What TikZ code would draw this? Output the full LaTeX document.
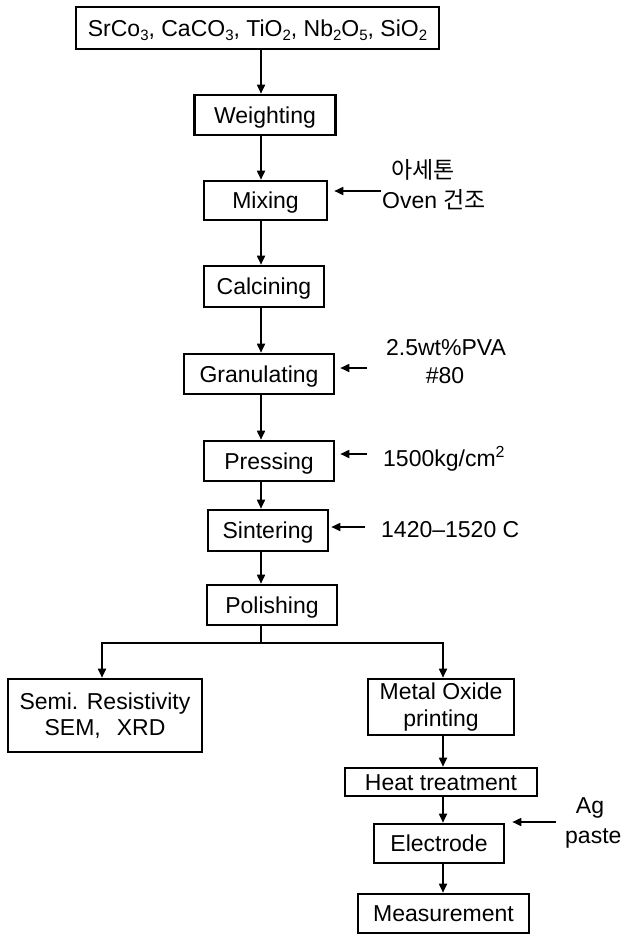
\documentclass[tikz,border=0pt]{standalone}
\usepackage{fontspec}
\setmainfont{Liberation Sans}
\newfontfamily\kr{Noto Sans CJK KR}
\usetikzlibrary{arrows.meta}
\newcommand\chsub[1]{\raisebox{-0.38ex}{\fontsize{15}{15}\selectfont #1}}
\newcommand\chsup[1]{\raisebox{0.75ex}{\fontsize{16}{16}\selectfont #1}}
\begin{document}
\begin{tikzpicture}[x=1pt,y=-1pt,font=\fontsize{23}{26}\selectfont,
  box/.style={draw, line width=2.6pt, inner sep=0pt, text height=16.5pt, text depth=0pt},
  box2/.style={draw, line width=2.6pt, inner sep=0pt, align=center},
  arr/.style={line width=1.7pt, -{Triangle[length=9pt,width=8pt]}},
  ln/.style={line width=1.7pt},
  lbl/.style={inner sep=0pt, text height=16.5pt, text depth=0pt}]
\useasboundingbox (0,0) rectangle (622,934);
\fill[white] (0,0) rectangle (622,934);

% main column boxes
\node[box, minimum width=363pt, minimum height=42pt] (top) at (257.5,28)
  {SrCo\chsub{3}, CaCO\chsub{3}, TiO\chsub{2}, Nb\chsub{2}O\chsub{5}, SiO\chsub{2}};
\node[box, minimum width=141pt, minimum height=40pt] (weigh) at (265,115) {Weighting};
\node[box, minimum width=123pt, minimum height=39pt] (mix) at (265.5,200.5) {Mixing};
\node[box, minimum width=120pt, minimum height=41pt] (calc) at (264,286.5) {Calcining};
\node[box, minimum width=150pt, minimum height=40pt] (gran) at (259,374) {Granulating};
\node[box, minimum width=130pt, minimum height=40pt] (press) at (269,461) {Pressing};
\node[box, minimum width=120pt, minimum height=41pt] (sint) at (268,530.5) {Sintering};
\node[box, minimum width=130pt, minimum height=40pt] (pol) at (272,605) {Polishing};

% branches
\node[box2, minimum width=194pt, minimum height=73pt] (semi) at (105,715.5)
  {Semi. Resistivity\\SEM,\hspace{16pt}XRD};
\node[box2, minimum width=146pt, minimum height=56pt] (metal) at (441,707)
  {Metal Oxide\\[1pt]printing};
\node[box, minimum width=192pt, minimum height=28pt] (heat) at (441,782) {Heat treatment};
\node[box, minimum width=130pt, minimum height=39pt] (elec) at (439,843.5) {Electrode};
\node[box, minimum width=171pt, minimum height=39pt] (meas) at (443.5,913.5) {Measurement};

% side labels
\node[lbl] (acetone) at (423,170) {\kr 아세톤};
\node[lbl, anchor=west] (oven) at (382,200) {Oven {\kr 건조}};
\node[lbl] (pva) at (446,347) {2.5wt\%PVA};
\node[lbl] (mesh) at (445,375) {\#80};
\node[lbl, anchor=west] (pres) at (383,458) {1500kg/cm\chsup{2}};
\node[lbl, anchor=west] (temp) at (381,529) {1420–1520 C};
\node[lbl] (ag) at (590,805) {Ag};
\node[lbl, anchor=west] (paste) at (565,835) {paste};

% coordinates
\coordinate (col) at (261,0);
\coordinate (rcol) at (443,0);
\coordinate (split) at (261,643);
\coordinate (lb) at (102,643);
\coordinate (rb) at (443,643);
\coordinate (mixin) at (381,191);
\coordinate (granin) at (367,368);
\coordinate (pressin) at (367,454);
\coordinate (sintin) at (365,527);
\coordinate (elecin) at (556,822);

% main vertical arrows
\draw[arr] (col |- top.south) -- (col |- weigh.north);
\draw[arr] (col |- weigh.south) -- (col |- mix.north);
\draw[arr] (col |- mix.south) -- (col |- calc.north);
\draw[arr] (col |- calc.south) -- (col |- gran.north);
\draw[arr] (col |- gran.south) -- (col |- press.north);
\draw[arr] (col |- press.south) -- (col |- sint.north);
\draw[arr] (col |- sint.south) -- (col |- pol.north);

% split
\draw[ln] (col |- pol.south) -- (split);
\draw[arr] (split) -| (lb |- semi.north);
\draw[arr] (split) -| (rb |- metal.north);

% right column
\draw[arr] (rcol |- metal.south) -- (rcol |- heat.north);
\draw[arr] (rcol |- heat.south) -- (rcol |- elec.north);
\draw[arr] (rcol |- elec.south) -- (rcol |- meas.north);

% side arrows
\draw[arr, shorten >=6pt] (mixin) -- (mixin -| mix.east);
\draw[arr, shorten >=5pt] (granin) -- (granin -| gran.east);
\draw[arr, shorten >=5pt] (pressin) -- (pressin -| press.east);
\draw[arr, shorten >=2pt] (sintin) -- (sintin -| sint.east);
\draw[arr, shorten >=7pt] (elecin) -- (elecin -| elec.east);
\end{tikzpicture}
\end{document}
